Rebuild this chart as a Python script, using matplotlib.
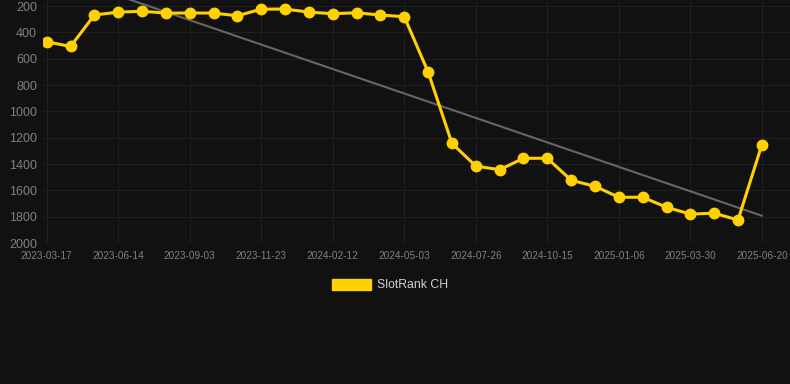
import matplotlib
matplotlib.use("Agg")
import matplotlib.pyplot as plt
from matplotlib.patches import Patch
import numpy as np

plt.rcParams['font.family'] = ['Liberation Sans', 'DejaVu Sans']

tick_labels = ['2023-03-17', '2023-06-14', '2023-09-03', '2023-11-23', '2024-02-12',
               '2024-05-03', '2024-07-26', '2024-10-15', '2025-01-06', '2025-03-30',
               '2025-06-20']
ranks = [471, 507, 268, 246, 240, 253, 253, 253, 274, 223, 223, 246, 258, 251, 268, 281,
         701, 1243, 1415, 1443, 1356, 1356, 1523, 1569, 1652, 1652, 1728, 1780, 1773, 1825,
         1253]
series_name = 'SlotRank CH'

bg = '#111111'
yellow = '#FFD100'

x = np.arange(len(ranks))
fig = plt.figure(figsize=(7.9, 3.84), dpi=100, facecolor=bg)
ax = fig.add_axes([0.054, 0.367, 0.946, 0.633], facecolor=bg)

# trend line from linear fit
k, b = np.polyfit(x, ranks, 1)
ax.plot(x, k * x + b, color='#666666', lw=1.5, zorder=2)
ax.plot(x, ranks, color=yellow, lw=2.2, marker='o', ms=7.5, zorder=3)

ax.set_xlim(-0.17, 31.18)
ax.set_ylim(2000, 154)
ax.set_yticks(range(200, 2001, 200))
ax.set_xticks(x[::3])
ax.set_xticklabels(tick_labels)
ax.grid(True, color='#1f1f1f', lw=0.8)
ax.set_axisbelow(True)
for s in ax.spines.values():
    s.set_visible(False)
ax.axhline(2000, color='#2e2e2e', lw=1, zorder=1)
ax.tick_params(axis='y', colors='#808080', labelsize=9, length=0, pad=4)
ax.tick_params(axis='x', colors='#808080', labelsize=7.2, length=0, pad=6)

fig.legend(handles=[Patch(color=yellow, label=series_name)], loc='center',
           bbox_to_anchor=(0.494, 0.258), frameon=False, labelcolor='#d0d0d0',
           fontsize=8.8, handlelength=3.2, handleheight=1.0, handletextpad=0.5)

fig.savefig('out.png', dpi=100, facecolor=bg)
